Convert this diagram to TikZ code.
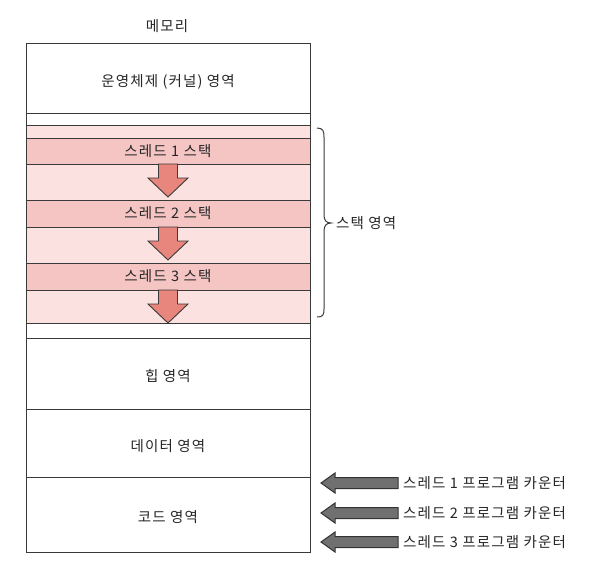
\documentclass[tikz,border=0pt]{standalone}
\usepackage{fontspec}
\setmainfont{Noto Sans CJK KR}[LetterSpace=8]
\begin{document}
\definecolor{ln}{HTML}{3A3A3A}
\definecolor{txt}{HTML}{262626}
\definecolor{pkA}{HTML}{FBE2E0}
\definecolor{pkB}{HTML}{F5C5C4}
\definecolor{arr}{HTML}{E8857C}
\definecolor{gr}{HTML}{707070}
\begin{tikzpicture}[x=1pt,y=-1pt,
  region/.style={draw=ln, line width=1pt, inner sep=0pt, outer sep=0pt,
    minimum width=284pt, anchor=north west, text=txt,
    text height=11pt, text depth=1pt,
    font=\fontsize{14.5}{16}\selectfont},
  lowtext/.style={text height=17pt, text depth=1pt},
  lbl/.style={text=txt, inner sep=0pt, font=\fontsize{14.5}{16}\selectfont},
  downarr/.pic={\draw[ln, fill=arr, line width=0.9pt, line join=miter]
    (-9.5,0) -- (9.5,0) -- (9.5,14) -- (20,14) -- (0,33) -- (-20,14) -- (-9.5,14) -- cycle;},
  leftarr/.pic={\draw[black!80, fill=gr, line width=1pt, line join=miter]
    (0,0) -- (14,-10) -- (14,-5.5) -- (77,-5.5) -- (77,5.5) -- (14,5.5) -- (14,10) -- cycle;}
]
\useasboundingbox (0,0) rectangle (603,574);
\fill[white] (0,0) rectangle (603,574);

\node[lbl] (title) at (167,26) {메모리};

\node[region, lowtext, minimum height=70pt] (os) at (26,43) {운영체제 (커널) 영역};
\node[region, minimum height=12pt] (gap1) at (26,113) {};
\node[region, fill=pkA, minimum height=198pt] (stack) at (26,125) {};
\node[region, fill=pkB, minimum height=26pt] (t1) at (26,138) {스레드 1 스택};
\node[region, fill=pkB, minimum height=27pt] (t2) at (26,200) {스레드 2 스택};
\node[region, fill=pkB, minimum height=27pt] (t3) at (26,263) {스레드 3 스택};
\node[region, minimum height=15pt] (gap2) at (26,323) {};
\node[region, lowtext, minimum height=71pt] (heap) at (26,338) {힙 영역};
\node[region, lowtext, minimum height=68pt] (data) at (26,409) {데이터 영역};
\node[region, lowtext, minimum height=75pt] (code) at (26,477) {코드 영역};

\pic at (168,164) {downarr};
\pic at (168,227) {downarr};
\pic at (168,290) {downarr};

\coordinate (bt) at (317,128);
\coordinate (bb) at (317,317);
\coordinate (bm) at (331,223);
\draw[ln, line width=1pt] (bt) .. controls (323,128) and (324,131) .. (324,137) -- (324,215)
  .. controls (324,220) and (326,223) .. (bm)
  .. controls (326,223) and (324,226) .. (324,231) -- (324,309)
  .. controls (324,315) and (323,317) .. (bb);
\node[lbl, anchor=west] (stk) at (336,223) {스택 영역};

\node[lbl, anchor=west] (pc1) at (403,483) {스레드 1 프로그램 카운터};
\node[lbl, anchor=west] (pc2) at (403,513) {스레드 2 프로그램 카운터};
\node[lbl, anchor=west] (pc3) at (403,542) {스레드 3 프로그램 카운터};
\pic at (321,483) {leftarr};
\pic at (321,513) {leftarr};
\pic at (321,542) {leftarr};
\end{tikzpicture}
\end{document}
